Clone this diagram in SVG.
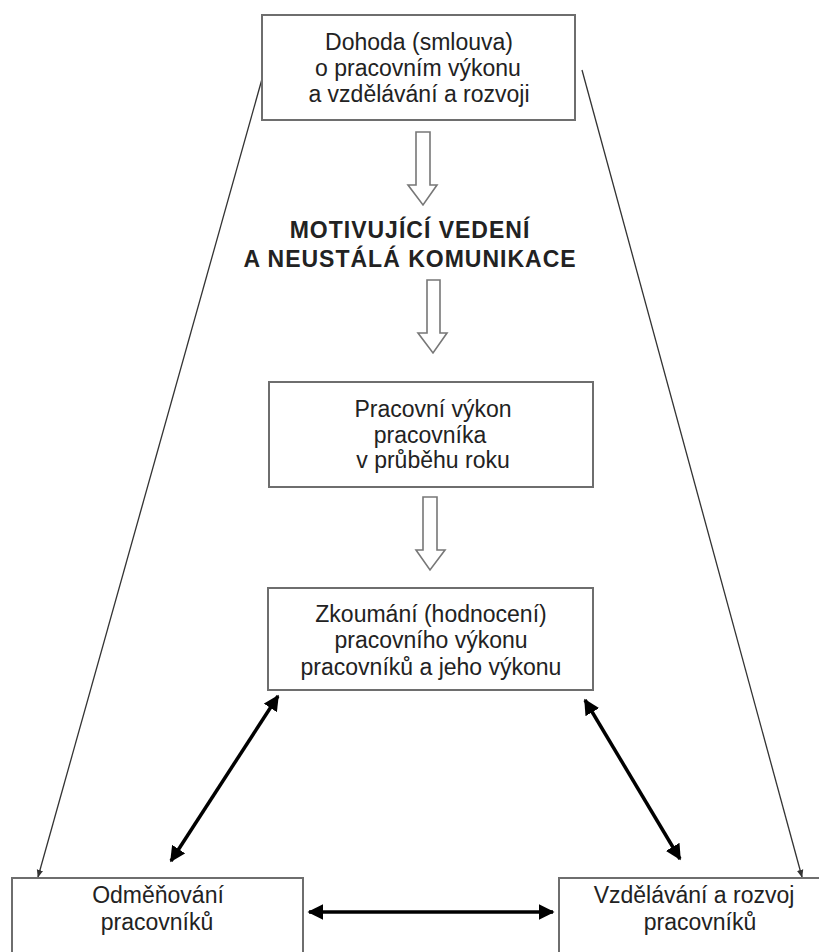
<svg xmlns="http://www.w3.org/2000/svg" width="819" height="952" viewBox="0 0 819 952">
<style>
.box{fill:#fff;stroke:#6e6e6e;stroke-width:2}
.t{font-family:"Liberation Sans",Arial,sans-serif;font-size:23px;fill:#222;text-anchor:middle}
.b{font-family:"Liberation Sans",Arial,sans-serif;font-size:23px;font-weight:bold;fill:#222;text-anchor:middle;letter-spacing:1px}
.thin{stroke:#333;stroke-width:1.3;fill:none}
.bold{stroke:#000;stroke-width:3.5;fill:none}
.hollow{fill:#fff;stroke:#777;stroke-width:1.6}
</style>
<defs>
<marker id="sm" viewBox="0 0 10 10" refX="9" refY="5" markerWidth="8" markerHeight="8" markerUnits="userSpaceOnUse" orient="auto">
<path d="M0,1 L10,5 L0,9 z" fill="#333"/>
</marker>
<marker id="bg" viewBox="0 0 10 10" refX="9" refY="5" markerWidth="4.5" markerHeight="4.5" orient="auto-start-reverse">
<path d="M0,0 L10,5 L0,10 z" fill="#000"/>
</marker>
</defs>
<rect width="819" height="952" fill="#fff"/>
<g id="connectors">
<line class="thin" x1="262" y1="79" x2="38" y2="877" marker-end="url(#sm)"/>
<line class="thin" x1="582" y1="70" x2="802" y2="877" marker-end="url(#sm)"/>
<path class="hollow" d="M416,132 H430 V185 H437 L423,205 L408,185 H416 Z"/>
<path class="hollow" d="M427,280 H440 V333 H447 L433,353 L418,333 H427 Z"/>
<path class="hollow" d="M423,497 H437 V550 H445 L430,570 L416,550 H423 Z"/>
<line class="bold" x1="278" y1="696" x2="171" y2="861" marker-start="url(#bg)" marker-end="url(#bg)"/>
<line class="bold" x1="585" y1="700" x2="680" y2="859" marker-start="url(#bg)" marker-end="url(#bg)"/>
<line class="bold" x1="309" y1="912" x2="553" y2="912" marker-start="url(#bg)" marker-end="url(#bg)"/>
</g>
<g id="dohoda">
<rect class="box" x="262" y="15" width="313" height="105"/>
<text class="t" x="419" y="50">Dohoda (smlouva)</text>
<text class="t" x="418" y="76">o pracovním výkonu</text>
<text class="t" x="419" y="102">a vzdělávání a rozvoji</text>
</g>
<g id="motivace">
<text class="b" x="410" y="238">MOTIVUJÍCÍ VEDENÍ</text>
<text class="b" x="410" y="267">A NEUSTÁLÁ KOMUNIKACE</text>
</g>
<g id="vykon">
<rect class="box" x="269" y="382" width="324" height="105"/>
<text class="t" x="433" y="417">Pracovní výkon</text>
<text class="t" x="430" y="443">pracovníka</text>
<text class="t" x="433" y="468">v průběhu roku</text>
</g>
<g id="zkoumani">
<rect class="box" x="268" y="588" width="325" height="102"/>
<text class="t" x="431" y="622">Zkoumání (hodnocení)</text>
<text class="t" x="431" y="648">pracovního výkonu</text>
<text class="t" x="431" y="675">pracovníků a jeho výkonu</text>
</g>
<g id="odmenovani">
<rect class="box" x="12" y="878" width="291" height="90"/>
<text class="t" x="158" y="903">Odměňování</text>
<text class="t" x="157" y="930">pracovníků</text>
</g>
<g id="vzdelavani">
<rect class="box" x="559" y="878" width="280" height="90"/>
<text class="t" x="694" y="903">Vzdělávání a rozvoj</text>
<text class="t" x="700" y="930">pracovníků</text>
</g>
</svg>
